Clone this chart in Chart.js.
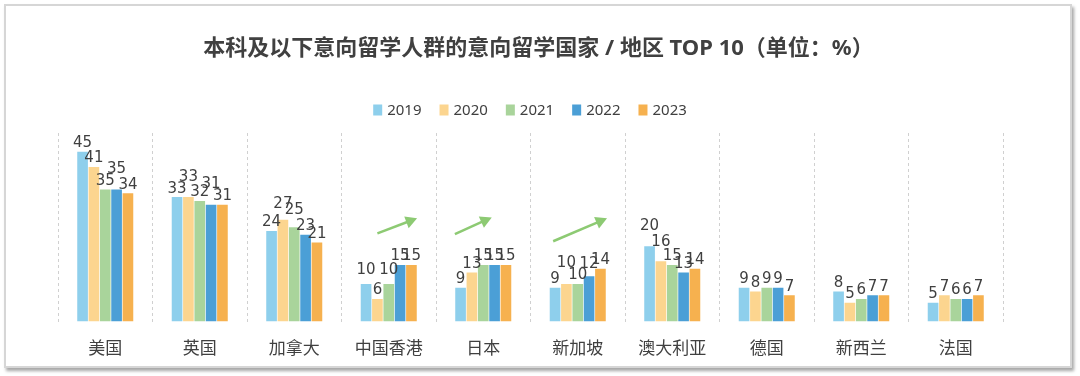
<!DOCTYPE html>
<html>
<head>
<meta charset="utf-8">
<script src="https://cdn.jsdelivr.net/npm/chart.js@4.4.0/dist/chart.umd.min.js"></script>
<style>
  body { margin: 0; background: #fff; }
  #frame {
    position: absolute; left: 4px; top: 4px; width: 1064px; height: 360px;
    border: 2px solid #d6d6d6; box-shadow: 2px 3px 3px rgba(0,0,0,0.35);
  }
  #wrap { position: absolute; left: 0; top: 0; width: 1080px; height: 376px; }
</style>
</head>
<body>
<div id="frame"></div>
<div id="wrap"><canvas id="studyChart" width="1080" height="376"></canvas></div>
<script>
  const titleText = "本科及以下意向留学人群的意向留学国家 / 地区 TOP 10（单位：%）";
  const countries = ["美国", "英国", "加拿大", "中国香港", "日本", "新加坡", "澳大利亚", "德国", "新西兰", "法国"];
  const years = ["2019", "2020", "2021", "2022", "2023"];
  const y2019 = [45, 33, 24, 10, 9, 9, 20, 9, 8, 5];
  const y2020 = [41, 33, 27, 6, 13, 10, 16, 8, 5, 7];
  const y2021 = [35, 32, 25, 10, 15, 10, 15, 9, 6, 6];
  const y2022 = [35, 31, 23, 15, 15, 12, 13, 9, 7, 6];
  const y2023 = [34, 31, 21, 15, 15, 14, 14, 7, 7, 7];
  const colors = ["#8ecfec", "#fcd58f", "#a9d49b", "#4b9fd6", "#f6b14f"];

  // labels lifted (px) so they don't cover a neighbour
  const raisedLabels = [
    ["美国", "2022", 12], ["英国", "2020", 12], ["英国", "2022", 12],
    ["加拿大", "2020", 7], ["加拿大", "2021", 9],
    ["中国香港", "2019", 5], ["中国香港", "2021", 5],
    ["新加坡", "2020", 12], ["新加坡", "2022", 4],
    ["澳大利亚", "2019", 12], ["澳大利亚", "2020", 11],
  ];

  // green trend arrows: category, [offset in category, value] start -> end
  const arrows = [
    { cat: "中国香港", from: [-0.12, 23.4], to: [0.30, 27.4] },
    { cat: "日本", from: [-0.30, 23.2], to: [0.09, 27.6] },
    { cat: "新加坡", from: [-0.26, 21.3], to: [0.31, 27.4] },
  ];

  const FONT = "'Noto Sans', 'Noto Sans CJK SC', sans-serif";
  const TEXT = "#404040";

  const series = [y2019, y2020, y2021, y2022, y2023];

  const valueLabels = {
    id: "valueLabels",
    afterDatasetsDraw(chart) {
      const ctx = chart.ctx;
      ctx.save();
      ctx.font = "15px 'DejaVu Sans'";
      ctx.fillStyle = TEXT;
      ctx.textAlign = "center";
      ctx.textBaseline = "bottom";
      chart.data.datasets.forEach((ds, i) => {
        chart.getDatasetMeta(i).data.forEach((bar, j) => {
          const r = raisedLabels.find(r => r[0] === countries[j] && r[1] === ds.label);
          ctx.fillText(ds.data[j], bar.x, bar.y - 1 - (r ? r[2] : 0));
        });
      });
      ctx.restore();
    }
  };

  const trendArrows = {
    id: "trendArrows",
    afterDatasetsDraw(chart) {
      const ctx = chart.ctx;
      const xs = chart.scales.x, ys = chart.scales.y;
      const step = xs.getPixelForValue(1) - xs.getPixelForValue(0);
      ctx.save();
      ctx.strokeStyle = "#8dca73";
      ctx.fillStyle = "#8dca73";
      ctx.lineWidth = 2.5;
      arrows.forEach(a => {
        const cx = xs.getPixelForValue(countries.indexOf(a.cat));
        const x1 = cx + a.from[0] * step, y1 = ys.getPixelForValue(a.from[1]);
        const x2 = cx + a.to[0] * step, y2 = ys.getPixelForValue(a.to[1]);
        const ang = Math.atan2(y2 - y1, x2 - x1);
        const hl = 13;
        ctx.beginPath();
        ctx.moveTo(x1, y1);
        ctx.lineTo(x2 - hl * 0.7 * Math.cos(ang), y2 - hl * 0.7 * Math.sin(ang));
        ctx.stroke();
        ctx.beginPath();
        ctx.moveTo(x2, y2);
        ctx.lineTo(x2 - hl * Math.cos(ang - 0.5), y2 - hl * Math.sin(ang - 0.5));
        ctx.lineTo(x2 - hl * Math.cos(ang + 0.5), y2 - hl * Math.sin(ang + 0.5));
        ctx.closePath();
        ctx.fill();
      });
      ctx.restore();
    }
  };

  // title and legend row above the plot
  const header = {
    id: "header",
    afterDraw(chart) {
      const ctx = chart.ctx;
      const area = chart.chartArea;
      const mid = (area.left + area.right) / 2;
      ctx.save();
      ctx.fillStyle = TEXT;
      ctx.textAlign = "center";
      ctx.textBaseline = "middle";
      ctx.font = "bold 22px " + FONT;
      ctx.fillText(titleText, mid + 8, 49);

      ctx.textAlign = "left";
      ctx.font = "15px " + FONT;
      const gap = 17;
      const items = chart.data.datasets.map(ds => ({
        label: ds.label, color: ds.backgroundColor, w: 15 + ctx.measureText(ds.label).width
      }));
      const total = items.reduce((s, it) => s + it.w, 0) + gap * (items.length - 1);
      let x = mid - total / 2;
      const y = 110;
      items.forEach(it => {
        ctx.fillStyle = it.color;
        ctx.fillRect(x, y - 5.5, 9, 11);
        ctx.fillStyle = TEXT;
        ctx.fillText(it.label, x + 14, y + 0.5);
        x += it.w + gap;
      });
      ctx.restore();
    }
  };

  new Chart(document.getElementById("studyChart"), {
    type: "bar",
    data: {
      labels: countries,
      datasets: years.map((y, i) => ({
        label: y,
        data: series[i],
        backgroundColor: colors[i],
        categoryPercentage: 0.6,
        barPercentage: 0.94,
      })),
    },
    options: {
      responsive: false,
      animation: false,
      layout: { padding: { left: 58, right: 77, top: 133, bottom: 0 } },
      plugins: {
        title: { display: false },
        legend: { display: false },
        tooltip: { enabled: false },
      },
      scales: {
        x: {
          grid: { display: true, color: "#d0d0d0", drawTicks: false, offset: true },
          border: { display: false, dash: [3, 3] },
          ticks: { color: TEXT, font: { family: FONT, size: 17 }, padding: 17 },
        },
        y: {
          display: false,
          min: 0,
          max: 50,
        },
      },
    },
    plugins: [valueLabels, trendArrows, header],
  });
</script>
</body>
</html>
